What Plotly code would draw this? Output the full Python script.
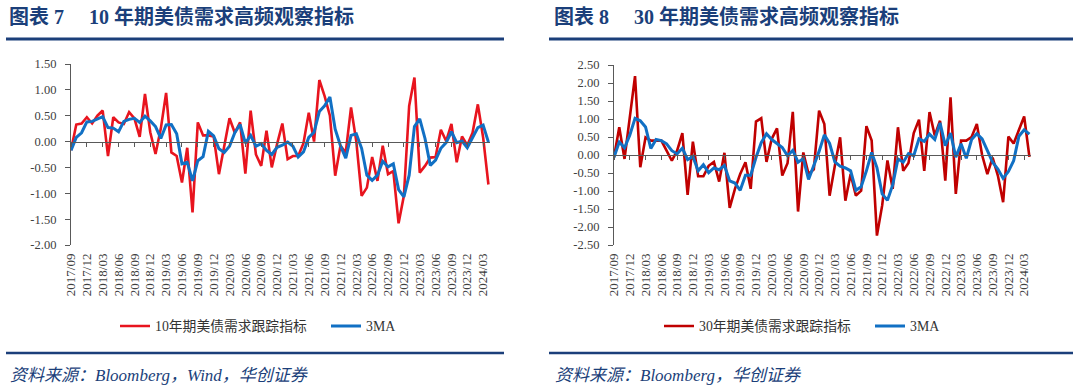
import plotly.graph_objects as go

W, H = 1080, 388

# ---------------- data ----------------
MONTHS = [f"{2017 + (8 + i) // 12}/{(8 + i) % 12 + 1:02d}" for i in range(80)]  # 2017/09 .. 2024/04

X_TICKS = ["2017/09", "2017/12", "2018/03", "2018/06", "2018/09", "2018/12", "2019/03",
           "2019/06", "2019/09", "2019/12", "2020/03", "2020/06", "2020/09", "2020/12",
           "2021/03", "2021/06", "2021/09", "2021/12", "2022/03", "2022/06", "2022/09",
           "2022/12", "2023/03", "2023/06", "2023/09", "2023/12", "2024/03"]

Y1_TICKS = [1.5, 1.0, 0.5, 0.0, -0.5, -1.0, -1.5, -2.0]
Y1_TEXT = ["1.50", "1.00", "0.50", "0.00", "-0.50", "-1.00", "-1.50", "-2.00"]
Y2_TICKS = [2.5, 2.0, 1.5, 1.0, 0.5, 0.0, -0.5, -1.0, -1.5, -2.0, -2.5]
Y2_TEXT = ["2.50", "2.00", "1.50", "1.00", "0.50", "0.00", "-0.50", "-1.00", "-1.50", "-2.00", "-2.50"]

# 10Y indicator
T10 = [-0.17, 0.33, 0.35, 0.47, 0.35, 0.50, 0.60, -0.28, 0.47, 0.37,
       0.34, 0.57, 0.45, 0.09, 0.92, 0.18, -0.24, 0.25, 0.94, -0.21,
       -0.28, -0.79, -0.12, -1.37, 0.37, 0.12, 0.12, 0.10, -0.63, -0.10,
       0.45, 0.17, 0.37, -0.62, 0.60, -0.25, -0.47, 0.21, -0.50, -0.05,
       0.35, -0.34, -0.28, -0.28, -0.03, 0.56, 0.00, 1.19, 0.88, 0.50,
       -0.66, -0.08, -0.21, 0.66, 0.00, -1.05, -0.89, -0.30, -0.76, -0.08,
       -0.63, -0.57, -1.58, -1.05, 0.69, 1.24, -0.60, -0.47, -0.31, -0.30,
       0.23, 0.01, 0.34, -0.40, 0.10, -0.07, 0.17, 0.72, 0.08, -0.83]
T10_MA = [-0.17, 0.08, 0.17, 0.38, 0.39, 0.44, 0.48, 0.27, 0.26, 0.19,
          0.39, 0.43, 0.45, 0.37, 0.49, 0.40, 0.29, 0.06, 0.32, 0.33,
          0.15, -0.43, -0.40, -0.76, -0.37, -0.29, 0.20, 0.11, -0.14, -0.21,
          -0.09, 0.17, 0.33, -0.03, 0.12, -0.09, -0.04, -0.17, -0.25, -0.11,
          -0.07, -0.01, -0.09, -0.30, -0.20, 0.08, 0.18, 0.58, 0.69, 0.86,
          0.24, -0.08, -0.32, 0.12, 0.15, -0.13, -0.65, -0.75, -0.65, -0.38,
          -0.49, -0.43, -0.93, -1.07, -0.65, 0.29, 0.44, 0.06, -0.46, -0.36,
          -0.13, -0.02, 0.19, -0.02, 0.01, -0.12, 0.07, 0.27, 0.32, -0.01]

# 30Y indicator
T30 = [-0.06, 0.77, -0.11, 0.99, 2.19, -0.34, 0.49, 0.40, 0.40, 0.40,
       0.12, -0.16, 0.12, 0.61, -1.11, 0.37, -0.59, -0.59, -0.30, -0.19,
       -0.74, 0.06, -1.47, -0.94, -0.53, -0.20, -0.94, 0.93, 1.02, -0.19,
       0.45, 0.74, -0.57, -0.23, 1.20, -1.57, 0.07, -0.53, -0.40, 1.23,
       0.86, -1.13, -0.30, 0.49, -1.27, -0.53, -1.13, -0.99, 0.80, 0.40,
       -2.24, -1.40, -0.15, -0.94, 0.77, -0.44, -0.22, 0.61, 0.98, -0.44,
       1.19, 0.54, 0.95, -0.71, 1.60, -1.08, 0.40, 0.40, 0.50, 0.86,
       0.00, -0.53, -0.07, -0.57, -1.31, 0.51, 0.32, 0.72, 1.07, -0.05]
T30_MA = [-0.06, 0.36, 0.20, 0.55, 1.02, 0.95, 0.78, 0.18, 0.43, 0.40,
          0.31, 0.12, 0.03, 0.19, -0.13, -0.04, -0.44, -0.27, -0.49, -0.36,
          -0.41, -0.29, -0.72, -0.78, -0.98, -0.56, -0.56, -0.07, 0.34, 0.59,
          0.43, 0.33, 0.21, -0.02, 0.13, -0.20, -0.10, -0.68, -0.29, 0.10,
          0.56, 0.32, -0.19, -0.31, -0.36, -0.44, -0.98, -0.88, -0.44, 0.07,
          -0.35, -1.08, -1.26, -0.83, -0.11, -0.20, 0.04, -0.02, 0.45, 0.38,
          0.58, 0.43, 0.89, 0.26, 0.61, -0.06, 0.31, -0.09, 0.43, 0.59,
          0.45, 0.11, -0.20, -0.39, -0.65, -0.46, -0.16, 0.52, 0.70, 0.58]

NAME10 = "10年期美债需求跟踪指标"
NAME30 = "30年期美债需求跟踪指标"
NAME_MA = "3MA"

# ---------------- style ----------------
RED1 = "#E8141E"
RED2 = "#C00000"
BLUE = "#1170C4"
NAVY = "#1B3F7A"
AXC = "#595959"
TXT = "#404040"
SERIF = "Liberation Serif, 'Times New Roman', 'Noto Sans CJK SC', serif"
YFONT = dict(family=SERIF, size=12.5, color=TXT)
XFONT = dict(family=SERIF, size=13, color=TXT)


def px(x):
    return x / W


def py(y):
    return 1 - y / H


# plot area pixels
P1 = dict(x0=71, x1=490, ytop=64, ybot=245, ymin=-2.0, ymax=1.5)
P2 = dict(x0=614, x1=1031, ytop=65, ybot=245, ymin=-2.5, ymax=2.5)
XR = [0, 79.3]


def zero_pos(p):
    d0, d1 = py(p["ybot"]), py(p["ytop"])
    return d0 + (0 - p["ymin"]) / (p["ymax"] - p["ymin"]) * (d1 - d0)


fig = go.Figure()
fig.add_trace(go.Scatter(x=MONTHS, y=T10, name=NAME10, mode="lines",
                         line=dict(color=RED1, width=2.6), xaxis="x", yaxis="y",
                         legend="legend"))
fig.add_trace(go.Scatter(x=MONTHS, y=T10_MA, name=NAME_MA, mode="lines",
                         line=dict(color=BLUE, width=3), xaxis="x3", yaxis="y",
                         legend="legend"))
fig.add_trace(go.Scatter(x=MONTHS, y=T30, name=NAME30, mode="lines",
                         line=dict(color=RED2, width=2.6), xaxis="x2", yaxis="y2",
                         legend="legend2"))
fig.add_trace(go.Scatter(x=MONTHS, y=T30_MA, name=NAME_MA, mode="lines",
                         line=dict(color=BLUE, width=3), xaxis="x4", yaxis="y2",
                         legend="legend2"))


def label_xaxis(p, anchor):
    return dict(domain=[px(p["x0"]), px(p["x1"])], anchor=anchor, type="category",
                range=XR, showline=False, ticks="", showgrid=False, zeroline=False,
                tickmode="array", tickvals=X_TICKS, ticktext=X_TICKS, tickangle=-90,
                tickfont=XFONT, ticklabelstandoff=5, automargin=False)


def zero_xaxis(p, over):
    return dict(domain=[px(p["x0"]), px(p["x1"])], overlaying=over, anchor="free",
                position=zero_pos(p), type="category", range=XR, showline=True,
                linecolor=AXC, linewidth=1.2, ticks="outside", ticklen=4, tickcolor=AXC,
                tickwidth=1.2, tickmode="array", tickvals=X_TICKS, showticklabels=False,
                showgrid=False, zeroline=False, automargin=False)


def yaxis(p, anchor, vals, texts):
    return dict(domain=[py(p["ybot"]), py(p["ytop"])], anchor=anchor,
                range=[p["ymin"], p["ymax"]], tickmode="array", tickvals=vals,
                ticktext=texts, ticks="outside", ticklen=5, tickcolor=AXC, tickwidth=1.2,
                showline=True, linecolor=AXC, linewidth=1.2, showgrid=False,
                zeroline=False, tickfont=YFONT, ticklabelstandoff=6, automargin=False)


LEG = dict(xanchor="left", yanchor="middle", orientation="h",
           font=dict(family=SERIF, size=13.8, color="#333333"),
           bgcolor="rgba(0,0,0,0)", entrywidth=166, itemwidth=30)

fig.update_layout(
    width=W, height=H, autosize=False,
    margin=dict(l=0, r=0, t=0, b=0, pad=0, autoexpand=False),
    paper_bgcolor="white", plot_bgcolor="rgba(0,0,0,0)",
    xaxis=label_xaxis(P1, "y"),
    xaxis2=label_xaxis(P2, "y2"),
    xaxis3=zero_xaxis(P1, "x"),
    xaxis4=zero_xaxis(P2, "x2"),
    yaxis=yaxis(P1, "x", Y1_TICKS, Y1_TEXT),
    yaxis2=yaxis(P2, "x2", Y2_TICKS, Y2_TEXT),
    legend=dict(x=px(115), y=py(326), **LEG),
    legend2=dict(x=px(659), y=py(326), **LEG),
    showlegend=True,
)

# titles, rules, sources
TITLE1 = "图表 7　 10 年期美债需求高频观察指标"
TITLE2 = "图表 8　 30 年期美债需求高频观察指标"
SRC1 = "资料来源：Bloomberg，Wind，华创证券"
SRC2 = "资料来源：Bloomberg，华创证券"

for txt, x in [(TITLE1, 7), (TITLE2, 552)]:
    fig.add_annotation(text=f"<b>{txt}</b>", xref="paper", yref="paper", x=px(x), y=py(17),
                       xanchor="left", yanchor="middle", showarrow=False,
                       font=dict(family=SERIF, size=20, color=NAVY))
for txt, x in [(SRC1, 8), (SRC2, 553)]:
    fig.add_annotation(text=f"<i>{txt}</i>", xref="paper", yref="paper", x=px(x), y=py(375),
                       xanchor="left", yanchor="middle", showarrow=False,
                       font=dict(family=SERIF, size=17, color=NAVY))

for (a, b) in [(6, 504), (549, 1073)]:
    fig.add_shape(type="line", xref="paper", yref="paper", x0=px(a), x1=px(b),
                  y0=py(39), y1=py(39), line=dict(color=NAVY, width=3))
    fig.add_shape(type="line", xref="paper", yref="paper", x0=px(a), x1=px(b),
                  y0=py(353), y1=py(353), line=dict(color=NAVY, width=2.5))

fig.write_html(
    "out.html",
    config={"displayModeBar": False},
    post_script="document.body.style.margin='0';document.body.style.overflow='hidden';",
)
